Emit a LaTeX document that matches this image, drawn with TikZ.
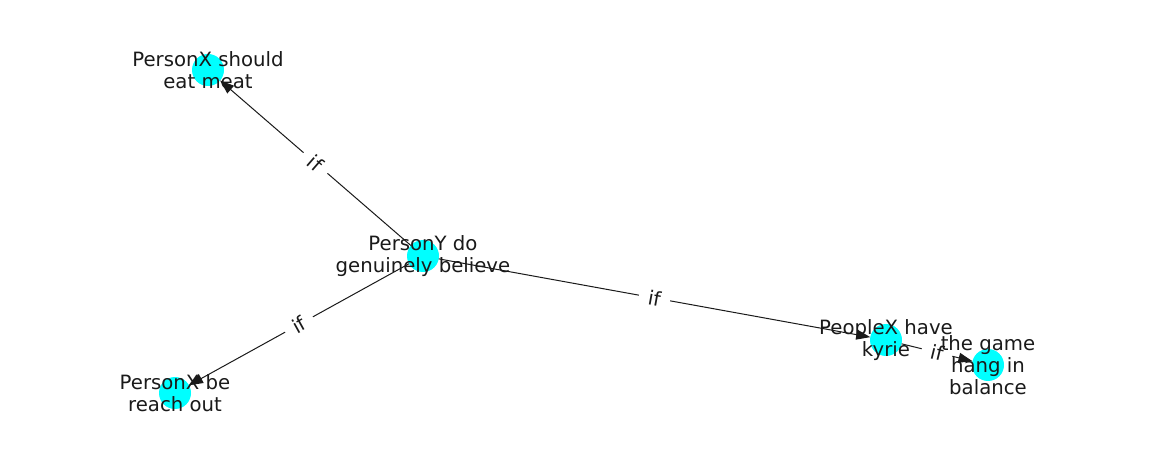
\documentclass[tikz,border=0pt]{standalone}
\usepackage{fontspec}
\setmainfont{DejaVu Sans}
\usetikzlibrary{arrows.meta}
\definecolor{nodecyan}{HTML}{00FFFF}
\definecolor{ink}{HTML}{1A1A1A}
\begin{document}
\begin{tikzpicture}[x=1pt,y=-1pt,
  vertex/.style={circle,fill=nodecyan,minimum size=32pt,inner sep=0pt,outer sep=0pt},
  vlabel/.style={align=center,font=\fontsize{19.7}{22}\selectfont,text=ink,inner sep=0pt},
  link/.style={draw=ink,line width=1pt,-{Triangle[length=14pt,width=10pt]}},
  elabel/.style={midway,sloped,fill=white,text=ink,font=\fontsize{19.7}{22}\selectfont,inner xsep=9.5pt,inner ysep=4pt}]
\useasboundingbox[fill=white] (0,0) rectangle (1162,462);
% nodes
\node[vertex] (a) at (423,256) {};
\node[vertex] (b) at (208,70) {};
\node[vertex] (c) at (175,393) {};
\node[vertex] (d) at (886,340) {};
\node[vertex] (e) at (988,365) {};
% edges
\draw[link] (a) -- node[elabel] (lab) {if} (b);
\draw[link] (a) -- node[elabel] (lac) {if} (c);
\draw[link] (a) -- node[elabel] (lad) {if} (d);
\draw[link] (d) -- node[elabel] (lde) {if} (e);
% labels
\node[vlabel] (at) at (a) {PersonY do\\genuinely believe};
\node[vlabel] (bt) at (b) {PersonX should\\eat meat};
\node[vlabel] (ct) at (c) {PersonX be\\reach out};
\node[vlabel] (dt) at (d) {PeopleX have\\kyrie};
\node[vlabel] (et) at (e) {the game\\hang in\\balance};
\end{tikzpicture}
\end{document}
